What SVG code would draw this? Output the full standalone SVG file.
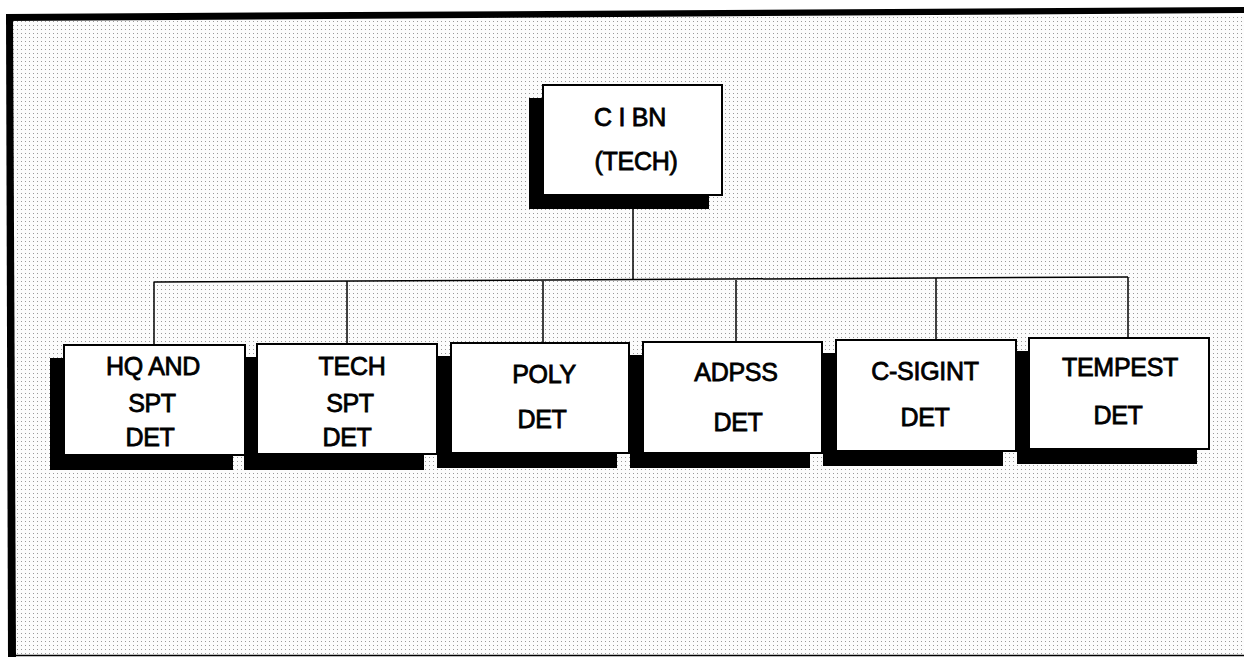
<svg xmlns="http://www.w3.org/2000/svg" width="1244" height="657" viewBox="0 0 1244 657">
<style>
.box{fill:#fff;stroke:#000;stroke-width:2}
.sh{fill:#000}
.t{font-family:"Liberation Sans",Arial,sans-serif;font-size:25px;font-weight:normal;fill:#000;stroke:#000;stroke-width:0.8;text-anchor:middle;letter-spacing:-0.3px}
.ln{stroke:#000;stroke-width:1.5;fill:none}
</style>
<defs>
<pattern id="dots" width="4" height="4" patternUnits="userSpaceOnUse">
<rect width="4" height="4" fill="#fcfcfc"/>
<rect x="1" y="1" width="1" height="1" fill="#999"/>
</pattern>
</defs>
<rect width="1244" height="657" fill="#fff"/>
<rect x="10" y="16" width="1234" height="641" fill="url(#dots)"/>
<g id="frame">
<polygon points="6,14 1244,7 1244,13 6,21" fill="#000"/>
<polygon points="6,14 13,14 16,657 8,657" fill="#000"/>
<line x1="13" y1="655.5" x2="1244" y2="655.5" stroke="#000" stroke-width="1.5"/>
</g>
<g id="connectors">
<line class="ln" x1="633" y1="209" x2="633" y2="280"/>
<line class="ln" x1="154" y1="282" x2="1128" y2="277"/>
<line class="ln" x1="154" y1="282" x2="154" y2="345"/>
<line class="ln" x1="347" y1="281" x2="347" y2="344"/>
<line class="ln" x1="543" y1="281" x2="543" y2="343"/>
<line class="ln" x1="736" y1="280" x2="736" y2="342"/>
<line class="ln" x1="936" y1="278" x2="936" y2="340"/>
<line class="ln" x1="1128" y1="277" x2="1128" y2="338"/>
</g>
<g id="top">
<rect class="sh" x="529" y="98" width="180" height="111"/>
<rect class="box" x="543" y="85" width="179" height="110"/>
<text class="t" x="630" y="126">C I BN</text>
<text class="t" x="636" y="170">(TECH)</text>
</g>
<g id="hq">
<rect class="sh" x="50" y="358" width="183" height="112"/>
<rect class="box" x="64" y="345" width="181" height="110"/>
<text class="t" x="153" y="375">HQ AND</text>
<text class="t" x="152" y="412">SPT</text>
<text class="t" x="150" y="446">DET</text>
</g>
<g id="tech">
<rect class="sh" x="244" y="357" width="180" height="113"/>
<rect class="box" x="257" y="344" width="180" height="110"/>
<text class="t" x="352" y="375">TECH</text>
<text class="t" x="350" y="412">SPT</text>
<text class="t" x="347" y="446">DET</text>
</g>
<g id="poly">
<rect class="sh" x="437" y="356" width="180" height="112"/>
<rect class="box" x="451" y="343" width="178" height="110"/>
<text class="t" x="544" y="383">POLY</text>
<text class="t" x="542" y="428">DET</text>
</g>
<g id="adpss">
<rect class="sh" x="630" y="355" width="180" height="113"/>
<rect class="box" x="643" y="342" width="179" height="111"/>
<text class="t" x="736" y="381">ADPSS</text>
<text class="t" x="738" y="431">DET</text>
</g>
<g id="csigint">
<rect class="sh" x="823" y="353" width="180" height="113"/>
<rect class="box" x="836" y="340" width="180" height="111"/>
<text class="t" x="925" y="380">C-SIGINT</text>
<text class="t" x="925" y="426">DET</text>
</g>
<g id="tempest">
<rect class="sh" x="1017" y="351" width="180" height="113"/>
<rect class="box" x="1029" y="338" width="180" height="111"/>
<text class="t" x="1120" y="376">TEMPEST</text>
<text class="t" x="1118" y="424">DET</text>
</g>
</svg>
